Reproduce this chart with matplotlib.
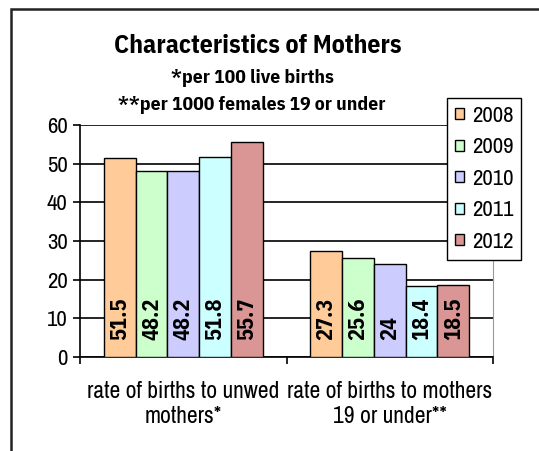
import matplotlib
matplotlib.use("Agg")
import matplotlib.pyplot as plt
import matplotlib.patches as mpatches
import numpy as np

REG = ['Archivo Narrow', 'Liberation Sans', 'DejaVu Sans']
BOLD = ['IBM Plex Sans Condensed', 'Liberation Sans', 'DejaVu Sans']
plt.rcParams['font.family'] = REG

categories = ["rate of births to unwed\nmothers*", "rate of births to mothers\n19 or under**"]
years = ["2008", "2009", "2010", "2011", "2012"]
values = {
    "2008": [51.5, 27.3],
    "2009": [48.2, 25.6],
    "2010": [48.2, 24],
    "2011": [51.8, 18.4],
    "2012": [55.7, 18.5],
}
colors = ["#FFCC99", "#CCFFCC", "#CCCCFF", "#CCFFFF", "#D99694"]
yticks = [0, 10, 20, 30, 40, 50, 60]

W, H = 539, 451
fig = plt.figure(figsize=(W / 100, H / 100), dpi=100)
fig.patch.set_facecolor("white")

# outer chart border
fig.patches.append(mpatches.Rectangle((11 / W, -0.1), 2, 1 - 9 / H + 0.1,
                                      transform=fig.transFigure, fill=False,
                                      edgecolor="#222222", lw=1.8, zorder=0))

ax = fig.add_axes([80 / W, (H - 357) / H, 413 / W, 232 / H])
x = np.arange(len(categories))
bw = 1 / 6.5
for i, (yr, c) in enumerate(zip(years, colors)):
    vals = values[yr]
    xs = x + (i - 2) * bw
    ax.bar(xs, vals, width=bw, color=c, edgecolor="black", linewidth=1.0, zorder=3, label=yr)
    for xi, v in zip(xs, vals):
        ax.annotate(f"{v:g}", (xi, 0), xytext=(0, 12), textcoords="offset points",
                    rotation=90, ha="center", va="bottom", fontsize=16,
                    fontweight="bold", family=BOLD, zorder=4)

ax.set_xlim(-0.5, 1.5)
ax.set_ylim(0, 60)
ax.set_yticks(yticks)
ax.set_yticklabels([str(t) for t in yticks], fontsize=16.5)
ax.yaxis.grid(True, color="black", lw=1.2, zorder=0)
ax.set_axisbelow(True)
ax.tick_params(axis="y", direction="out", length=5, width=1.2, pad=4)

ax.set_xticks(x)
ax.set_xticklabels(categories, fontsize=17, linespacing=1.25)
ax.tick_params(axis="x", which="major", length=0, pad=17)
ax.set_xticks([-0.5, 0.5, 1.5], minor=True)
ax.tick_params(axis="x", which="minor", direction="out", length=5, width=1.2)

ax.spines["left"].set_color("black")
ax.spines["left"].set_linewidth(1.2)
ax.spines["bottom"].set_color("black")
ax.spines["bottom"].set_linewidth(1.2)
ax.spines["right"].set_color("#999999")
ax.spines["top"].set_visible(False)

fig.text(258 / W, 1 - 53 / H, "Characteristics of Mothers", ha="center", va="baseline",
         fontsize=18.5, fontweight="bold", family=BOLD)
fig.text(252 / W, 1 - 83 / H, "*per 100 live births", ha="center", va="baseline",
         fontsize=14, fontweight="bold", family=BOLD)
fig.text(252 / W, 1 - 110 / H, "**per 1000 females 19 or under", ha="center", va="baseline",
         fontsize=14, fontweight="bold", family=BOLD)

leg = ax.legend(loc="upper left", bbox_to_anchor=(447 / W, 1 - 98 / H),
                bbox_transform=fig.transFigure, fontsize=16.5, frameon=True,
                fancybox=False, edgecolor="black", framealpha=1,
                handlelength=0.38, handleheight=0.38, handletextpad=0.35,
                labelspacing=0.5, borderpad=0.35, borderaxespad=0)
leg.get_frame().set_linewidth(1.0)
leg.set_zorder(10)

fig.savefig("out.png", dpi=100)
